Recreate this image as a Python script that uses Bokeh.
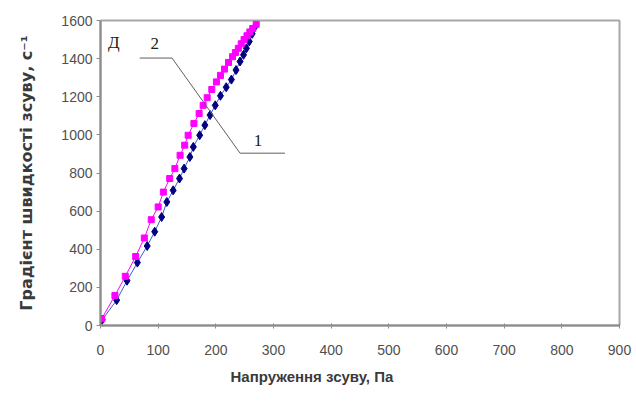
from bokeh.plotting import figure
from bokeh.models import Range1d, Label, FixedTicker, Title
from bokeh.embed import file_html
from bokeh.resources import INLINE

# Series 1 (navy diamonds)
s1_x = [3, 28, 46, 64, 81, 94, 106, 115, 126, 137, 145, 155, 161, 172, 181, 190, 199,
        208, 218, 227, 235, 242, 248, 253, 258, 263, 268]
s1_y = [30, 133, 235, 330, 417, 492, 569, 648, 709, 771, 823, 884, 937, 998, 1051, 1104,
        1155, 1205, 1250, 1290, 1340, 1385, 1420, 1454, 1490, 1530, 1568]
# Series 2 (magenta squares)
s2_x = [2, 25, 43, 61, 76, 88, 100, 109, 120, 129, 138, 146, 152, 162, 171, 178, 185, 193,
        201, 208, 215, 222, 229, 234, 239, 244, 249, 254, 259, 264, 270]
s2_y = [35, 157, 258, 362, 459, 555, 622, 700, 771, 823, 893, 946, 998, 1060, 1112, 1155,
        1195, 1238, 1278, 1312, 1345, 1380, 1410, 1432, 1454, 1478, 1500, 1520, 1540, 1558, 1580]

x_ticks = [0, 100, 200, 300, 400, 500, 600, 700, 800, 900]
y_ticks = [0, 200, 400, 600, 800, 1000, 1200, 1400, 1600]

# leader line annotation (data units)
leader_x = [68, 124, 242, 320]
leader_y = [1403, 1403, 904, 904]

p = figure(width=636, height=404, output_backend="svg", toolbar_location=None,
           x_range=Range1d(0, 900), y_range=Range1d(0, 1600),
           min_border_left=100, min_border_right=17, min_border_top=20, min_border_bottom=79)
p.xgrid.visible = False
p.ygrid.visible = False
p.background_fill_color = "white"
p.border_fill_color = "white"
p.outline_line_color = "#a8a8a8"
p.outline_line_width = 2

for ax in (p.xaxis[0], p.yaxis[0]):
    ax.axis_line_color = "#8c8c8c"
    ax.axis_line_width = 2
    ax.major_tick_line_color = "#8c8c8c"
    ax.major_tick_line_width = 1
    ax.minor_tick_line_color = None
    ax.major_label_text_font = "Liberation Sans"
    ax.major_label_text_font_size = "14px"
    ax.major_label_text_color = "#505050"

p.xaxis.ticker = FixedTicker(ticks=x_ticks)
p.yaxis.ticker = FixedTicker(ticks=y_ticks)
p.xaxis.major_tick_in = 2
p.xaxis.major_tick_out = 3
p.yaxis.major_tick_in = 0
p.yaxis.major_tick_out = 4
p.xaxis.major_label_standoff = 16
p.yaxis.major_label_standoff = 4
p.yaxis.axis_label = "Градієнт швидкості зсуву, с⁻¹"
p.yaxis.axis_label_text_font = "DejaVu Sans"
p.yaxis.axis_label_text_font_size = "16px"
p.yaxis.axis_label_text_font_style = "bold"
p.yaxis.axis_label_text_color = "#3a3a3a"
p.yaxis.axis_label_standoff = 22

p.add_layout(Title(text="Напруження зсуву, Па", align="left", offset=130,
                   text_font="Liberation Sans", text_font_size="15px",
                   text_font_style="bold", text_color="#3a3a3a", standoff=16), "below")

p.line(s1_x, s1_y, line_color="#3b5bd9", line_width=1)
p.scatter(s1_x, s1_y, marker="diamond", size=9, fill_color="#000080", line_color="#000080")
p.line(s2_x, s2_y, line_color="#ff00ff", line_width=1)
p.scatter(s2_x, s2_y, marker="square", size=6, fill_color="#ff00ff", line_color="#ff00ff")

p.line(leader_x, leader_y, line_color="#606060", line_width=1)

for txt, x, y in [("Д", 23, 1487), ("2", 94, 1477), ("1", 273, 972)]:
    p.add_layout(Label(x=x, y=y, text=txt, text_font="Liberation Serif", text_font_size="17px",
                       text_align="center", text_baseline="middle", text_color="#202020"))

open("out.html", "w").write(file_html(p, INLINE))
